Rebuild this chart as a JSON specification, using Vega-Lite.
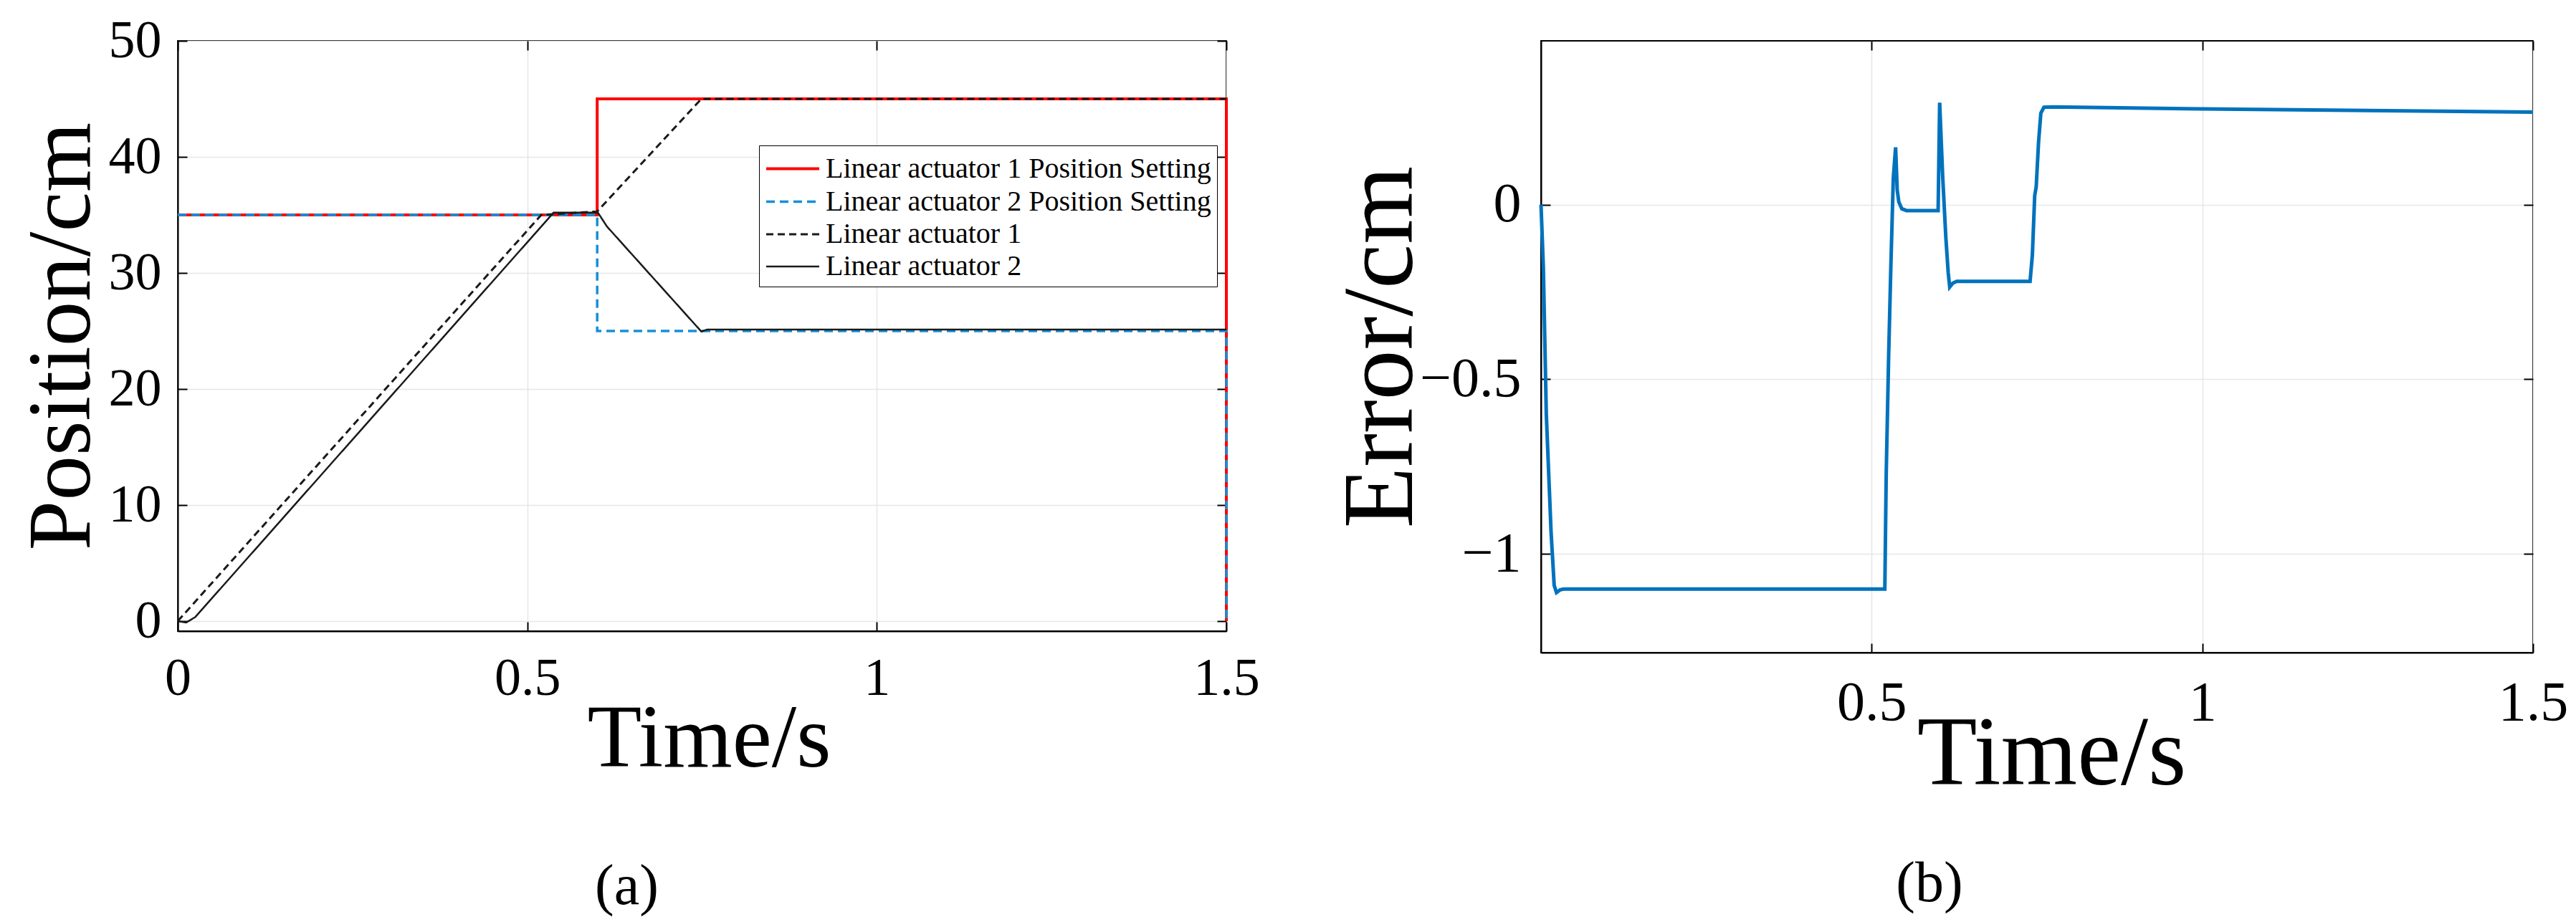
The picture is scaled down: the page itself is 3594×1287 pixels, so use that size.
{
  "$schema": "https://vega.github.io/schema/vega-lite/v6.json",
  "background": "white",
  "padding": {"left": 22, "top": 19, "right": 5, "bottom": 5},
  "bounds": "flush",
  "spacing": 439,
  "datasets": {
    "pos": [
      {"series": "Linear actuator 1 Position Setting", "i": 0, "t": 0, "v": 35},
      {"series": "Linear actuator 1 Position Setting", "i": 1, "t": 0.6, "v": 35},
      {"series": "Linear actuator 1 Position Setting", "i": 2, "t": 0.6, "v": 45},
      {"series": "Linear actuator 1 Position Setting", "i": 3, "t": 1.5, "v": 45},
      {"series": "Linear actuator 1 Position Setting", "i": 4, "t": 1.5, "v": 0},
      {"series": "Linear actuator 2 Position Setting", "i": 0, "t": 0, "v": 35},
      {"series": "Linear actuator 2 Position Setting", "i": 1, "t": 0.6, "v": 35},
      {"series": "Linear actuator 2 Position Setting", "i": 2, "t": 0.6, "v": 25},
      {"series": "Linear actuator 2 Position Setting", "i": 3, "t": 1.5, "v": 25},
      {"series": "Linear actuator 2 Position Setting", "i": 4, "t": 1.5, "v": 0},
      {"series": "Linear actuator 1", "i": 0, "t": 0, "v": 0},
      {"series": "Linear actuator 1", "i": 1, "t": 0.52, "v": 35},
      {"series": "Linear actuator 1", "i": 2, "t": 0.6, "v": 35.3},
      {"series": "Linear actuator 1", "i": 3, "t": 0.749, "v": 45},
      {"series": "Linear actuator 1", "i": 4, "t": 1.5, "v": 45},
      {"series": "Linear actuator 2", "i": 0, "t": 0, "v": 0},
      {"series": "Linear actuator 2", "i": 1, "t": 0.012, "v": -0.12},
      {"series": "Linear actuator 2", "i": 2, "t": 0.025, "v": 0.35},
      {"series": "Linear actuator 2", "i": 3, "t": 0.5376, "v": 35.2},
      {"series": "Linear actuator 2", "i": 4, "t": 0.601, "v": 35.2},
      {"series": "Linear actuator 2", "i": 5, "t": 0.614, "v": 34.0},
      {"series": "Linear actuator 2", "i": 6, "t": 0.749, "v": 24.95},
      {"series": "Linear actuator 2", "i": 7, "t": 0.757, "v": 25.12},
      {"series": "Linear actuator 2", "i": 8, "t": 1.5, "v": 25.12}
    ],
    "err": [
      {"i": 0, "t": 0.0, "v": 0.0},
      {"i": 1, "t": 0.0035, "v": -0.177},
      {"i": 2, "t": 0.008, "v": -0.6},
      {"i": 3, "t": 0.0152, "v": -0.9375},
      {"i": 4, "t": 0.0199, "v": -1.09},
      {"i": 5, "t": 0.0234, "v": -1.111},
      {"i": 6, "t": 0.029, "v": -1.103},
      {"i": 7, "t": 0.034, "v": -1.101},
      {"i": 8, "t": 0.5199, "v": -1.101},
      {"i": 9, "t": 0.522, "v": -0.77},
      {"i": 10, "t": 0.5257, "v": -0.43},
      {"i": 11, "t": 0.529, "v": -0.177},
      {"i": 12, "t": 0.5327, "v": 0.076},
      {"i": 13, "t": 0.5362, "v": 0.164},
      {"i": 14, "t": 0.5386, "v": 0.042},
      {"i": 15, "t": 0.541, "v": 0.008},
      {"i": 16, "t": 0.5456, "v": -0.012},
      {"i": 17, "t": 0.5526, "v": -0.017},
      {"i": 18, "t": 0.6005, "v": -0.017},
      {"i": 19, "t": 0.6028, "v": 0.292},
      {"i": 20, "t": 0.6075, "v": 0.076},
      {"i": 21, "t": 0.6121, "v": -0.093},
      {"i": 22, "t": 0.6157, "v": -0.194},
      {"i": 23, "t": 0.618, "v": -0.236},
      {"i": 24, "t": 0.6227, "v": -0.225},
      {"i": 25, "t": 0.6285, "v": -0.22},
      {"i": 26, "t": 0.7395, "v": -0.22},
      {"i": 27, "t": 0.743, "v": -0.144},
      {"i": 28, "t": 0.7465, "v": 0.025},
      {"i": 29, "t": 0.7488, "v": 0.051},
      {"i": 30, "t": 0.7523, "v": 0.177},
      {"i": 31, "t": 0.7558, "v": 0.262},
      {"i": 32, "t": 0.7605, "v": 0.279},
      {"i": 33, "t": 0.7745, "v": 0.28},
      {"i": 34, "t": 1.0, "v": 0.274},
      {"i": 35, "t": 1.5, "v": 0.265}
    ]
  },
  "config": {
    "font": "Liberation Serif",
    "view": {"stroke": "black", "strokeWidth": 2},
    "axis": {
      "labelFont": "Liberation Serif",
      "titleFont": "Liberation Serif",
      "labelColor": "black",
      "titleColor": "black",
      "titleFontWeight": "normal",
      "domainColor": "black",
      "domainWidth": 2,
      "tickColor": "black",
      "tickWidth": 2,
      "tickSize": -13,
      "gridColor": "#e6e6e6",
      "gridWidth": 1.5,
      "labelFlush": false,
      "labelBound": false,
      "labelOverlap": false
    },
    "title": {"font": "Liberation Serif", "fontSize": 80, "fontWeight": "normal", "color": "black"}
  },
  "hconcat": [
    {
      "width": 1463,
      "height": 824,
      "title": {"text": "(a)", "orient": "bottom", "anchor": "middle", "dx": -105, "offset": 105},
      "data": {"name": "pos"},
      "resolve": {"axis": {"x": "independent", "y": "independent"}},
      "layer": [
        {
          "transform": [{"filter": "datum.series === 'Linear actuator 1 Position Setting'"}],
          "mark": {"type": "line"},
          "encoding": {
            "x": {"field": "t", "type": "quantitative", "scale": {"domain": [0, 1.5], "nice": false, "zero": false},
              "axis": {"orient": "bottom", "values": [0, 0.5, 1, 1.5], "format": "~g", "labelFontSize": 74, "labelPadding": 43,
                "title": "Time/s", "titleFontSize": 124, "titleX": 741, "titleY": 188, "titleBaseline": "alphabetic", "titleAlign": "center", "grid": true}},
            "y": {"field": "v", "type": "quantitative", "scale": {"domain": [-0.86, 50], "nice": false, "zero": false},
              "axis": {"orient": "left", "values": [0, 10, 20, 30, 40, 50], "format": "d", "labelFontSize": 74, "labelPadding": 36,
                "title": "Position/cm", "titleFontSize": 125, "titleX": -124, "titleY": 412, "titleAngle": 270, "titleBaseline": "alphabetic", "titleAlign": "center", "grid": true}},
            "order": {"field": "i", "type": "quantitative"},
            "color": {"field": "series", "type": "nominal",
              "scale": {"domain": ["Linear actuator 1 Position Setting", "Linear actuator 2 Position Setting", "Linear actuator 1", "Linear actuator 2"], "range": ["#ff0000", "#1590d6", "#1a1a1a", "#1a1a1a"]},
              "legend": {"orient": "none", "legendX": 811, "legendY": 146, "title": null, "symbolType": "M-1,0H2.289", "symbolSize": 2025,
                "labelFont": "Liberation Serif", "labelFontSize": 40, "labelColor": "black", "labelLimit": 0, "labelOffset": 36,
                "strokeColor": "black", "fillColor": "white", "padding": 8, "rowPadding": 1}},
            "strokeDash": {"field": "series", "type": "nominal",
              "scale": {"domain": ["Linear actuator 1 Position Setting", "Linear actuator 2 Position Setting", "Linear actuator 1", "Linear actuator 2"], "range": [[1, 0], [12, 7], [10, 6], [1, 0]]}},
            "strokeWidth": {"field": "series", "type": "nominal",
              "scale": {"domain": ["Linear actuator 1 Position Setting", "Linear actuator 2 Position Setting", "Linear actuator 1", "Linear actuator 2"], "range": [4, 2.5, 1.8, 2]}}
          }
        },
        {
          "transform": [{"filter": "datum.series === 'Linear actuator 2 Position Setting'"}],
          "mark": {"type": "line"},
          "encoding": {
            "x": {"field": "t", "type": "quantitative", "scale": {"domain": [0, 1.5], "nice": false, "zero": false},
              "axis": {"orient": "top", "values": [0, 0.5, 1, 1.5], "labels": false, "title": null, "grid": false, "domain": false}},
            "y": {"field": "v", "type": "quantitative", "scale": {"domain": [-0.86, 50], "nice": false, "zero": false},
              "axis": {"orient": "right", "values": [0, 10, 20, 30, 40, 50], "labels": false, "title": null, "grid": false, "domain": false}},
            "order": {"field": "i", "type": "quantitative"},
            "color": {"field": "series", "type": "nominal"},
            "strokeDash": {"field": "series", "type": "nominal"},
            "strokeWidth": {"field": "series", "type": "nominal"}
          }
        },
        {
          "transform": [{"filter": "datum.series === 'Linear actuator 1' || datum.series === 'Linear actuator 2'"}],
          "mark": {"type": "line"},
          "encoding": {
            "x": {"field": "t", "type": "quantitative", "scale": {"domain": [0, 1.5], "nice": false, "zero": false}, "axis": null},
            "y": {"field": "v", "type": "quantitative", "scale": {"domain": [-0.86, 50], "nice": false, "zero": false}, "axis": null},
            "order": {"field": "i", "type": "quantitative"},
            "color": {"field": "series", "type": "nominal"},
            "strokeDash": {"field": "series", "type": "nominal"},
            "strokeWidth": {"field": "series", "type": "nominal"}
          }
        }
      ]
    },
    {
      "width": 1384,
      "height": 854,
      "title": {"text": "(b)", "orient": "bottom", "anchor": "middle", "dx": -150, "offset": 74},
      "data": {"name": "err"},
      "resolve": {"axis": {"x": "independent", "y": "independent"}},
      "layer": [
        {
          "mark": {"type": "line", "color": "#0072bd", "strokeWidth": 5},
          "encoding": {
            "x": {"field": "t", "type": "quantitative", "scale": {"domain": [0, 1.5], "nice": false, "zero": false},
              "axis": {"orient": "bottom", "values": [0.5, 1, 1.5], "format": "~g", "labelFontSize": 78, "labelPadding": 44,
                "title": "Time/s", "titleFontSize": 137, "titleX": 712, "titleY": 183, "titleBaseline": "alphabetic", "titleAlign": "center", "grid": true}},
            "y": {"field": "v", "type": "quantitative", "scale": {"domain": [-1.283, 0.469], "nice": false, "zero": false},
              "axis": {"orient": "left", "values": [-1, -0.5, 0], "format": "~g", "labelFontSize": 78, "labelPadding": 41,
                "title": "Error/cm", "titleFontSize": 140, "titleX": -181, "titleY": 427, "titleAngle": 270, "titleBaseline": "alphabetic", "titleAlign": "center", "grid": true}},
            "order": {"field": "i", "type": "quantitative"}
          }
        },
        {
          "mark": {"type": "line", "opacity": 0},
          "encoding": {
            "x": {"field": "t", "type": "quantitative", "scale": {"domain": [0, 1.5], "nice": false, "zero": false},
              "axis": {"orient": "top", "values": [0.5, 1, 1.5], "labels": false, "title": null, "grid": false, "domain": false}},
            "y": {"field": "v", "type": "quantitative", "scale": {"domain": [-1.283, 0.469], "nice": false, "zero": false},
              "axis": {"orient": "right", "values": [-1, -0.5, 0], "labels": false, "title": null, "grid": false, "domain": false}},
            "order": {"field": "i", "type": "quantitative"}
          }
        }
      ]
    }
  ]
}
